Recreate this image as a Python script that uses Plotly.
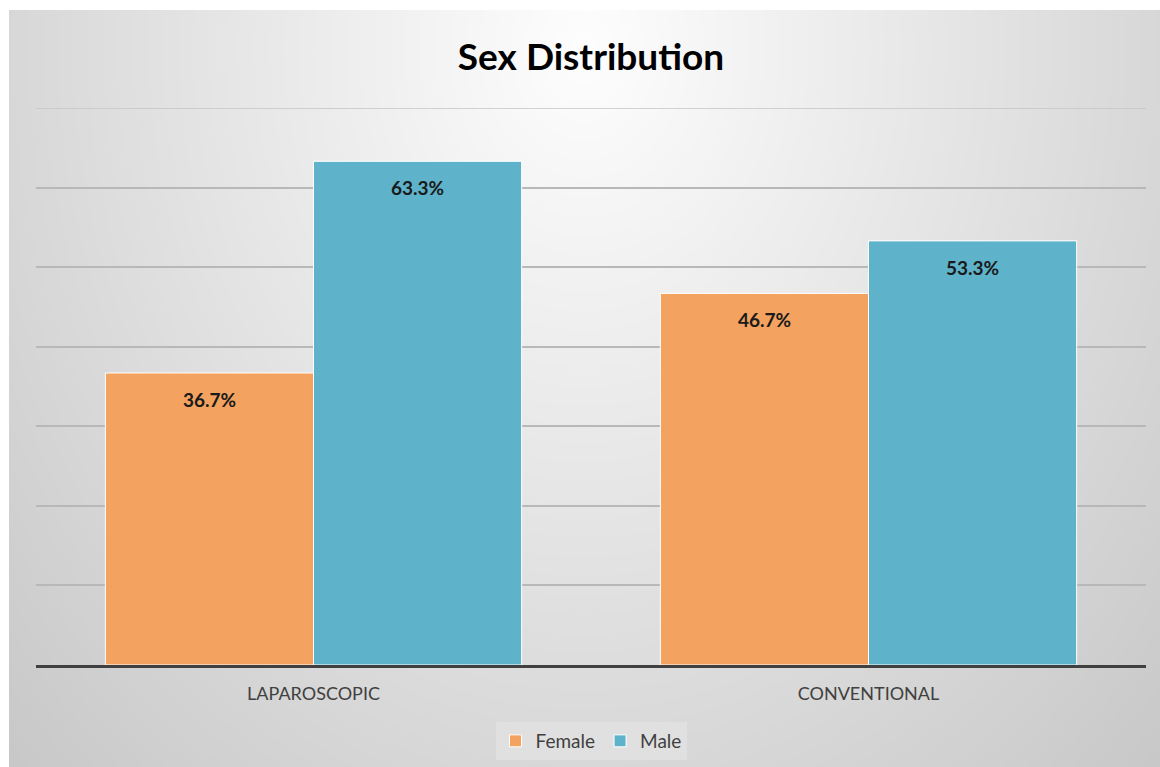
import base64, struct, zlib
import numpy as np
import plotly.graph_objects as go

# ---- data ----
categories = ["LAPAROSCOPIC", "CONVENTIONAL"]
female = [36.7, 46.7]
male = [63.3, 53.3]
series_names = ["Female", "Male"]
title_text = "Sex Distribution"

# ---- background gradient image (styling only) ----
def make_png(arr):
    h, w = arr.shape
    raw = b"".join(b"\x00" + arr[i].astype(np.uint8).tobytes() for i in range(h))
    def chunk(t, d):
        c = struct.pack(">I", len(d)) + t + d
        return c + struct.pack(">I", zlib.crc32(t + d) & 0xffffffff)
    ihdr = struct.pack(">IIBBBBB", w, h, 8, 0, 0, 0, 0)
    return b"\x89PNG\r\n\x1a\n" + chunk(b"IHDR", ihdr) + chunk(b"IDAT", zlib.compress(raw, 9)) + chunk(b"IEND", b"")

W, H = 384, 252
xs = (np.arange(W) + 0.5) / W
ys = (np.arange(H) + 0.5) / H
X, Y = np.meshgrid(xs, ys)
d = np.sqrt(((X - 0.5) / 0.55) ** 2 + ((Y - 0.05) / 1.05) ** 2)
v = np.clip(254 - 42 * d, 0, 255)
src = "data:image/png;base64," + base64.b64encode(make_png(v)).decode()

FW, FH = 1160, 767
PT, PB = 108, 665
orange = "#F3A35F"
blue = "#5EB3CB"
font_fam = "Lato, 'Open Sans', sans-serif"

fig = go.Figure()
fig.add_trace(go.Bar(x=categories, y=female, name=series_names[0],
                     marker=dict(color=orange, line=dict(color="white", width=1))))
fig.add_trace(go.Bar(x=categories, y=male, name=series_names[1],
                     marker=dict(color=blue, line=dict(color="white", width=1))))

annotations = []
for i, c in enumerate(categories):
    for j, vals in enumerate([female, male]):
        annotations.append(dict(
            x=c, y=vals[i], xref="x", yref="y", text=f"<b>{vals[i]:.1f}%</b>",
            showarrow=False, yanchor="top", yshift=-13, xshift=(-104 if j == 0 else 104),
            font=dict(family=font_fam, size=19, color="#1a1a1a")))

fig.update_layout(
    width=FW, height=FH,
    paper_bgcolor="white", plot_bgcolor="rgba(0,0,0,0)",
    margin=dict(l=36, r=14, t=PT, b=FH - PB, autoexpand=False),
    barmode="group", bargap=0.25, bargroupgap=0,
    title=dict(text="<b>" + title_text + "</b>", x=0.5, xanchor="center",
               xref="paper",
               y=1 - 57 / FH, yanchor="middle",
               font=dict(family=font_fam, size=37, color="#000000")),
    xaxis=dict(showgrid=False, showline=True, linecolor="#404040", linewidth=3,
               ticks="", ticklabelstandoff=10,
               tickfont=dict(family=font_fam, size=18, color="#404040"),
               zeroline=False),
    yaxis=dict(range=[0, 70], dtick=10, showticklabels=False, showgrid=True,
               gridcolor="#b8b8b8", gridwidth=1.5, zeroline=False, ticks=""),
    legend=dict(orientation="h", x=0.5, xanchor="center",
                yref="container", y=1 - 741 / FH, yanchor="middle",
                bgcolor="#e0e0e0",
                font=dict(family=font_fam, size=19, color="#404040"),
                itemwidth=30, traceorder="normal"),
    annotations=annotations,
    shapes=[dict(type="line", xref="paper", yref="y", x0=0, x1=1, y0=70, y1=70,
                 line=dict(color="#c4c4c4", width=1.5), layer="below")],
    images=[dict(source=src, xref="paper", yref="paper", sizing="stretch",
                 layer="below",
                 x=(9 - 36) / (FW - 50), y=1 + (PT - 10) / (PB - PT),
                 sizex=(FW - 9) / (FW - 50), sizey=(FH - 10) / (PB - PT),
                 xanchor="left", yanchor="top")],
)

fig.write_html("out.html")
